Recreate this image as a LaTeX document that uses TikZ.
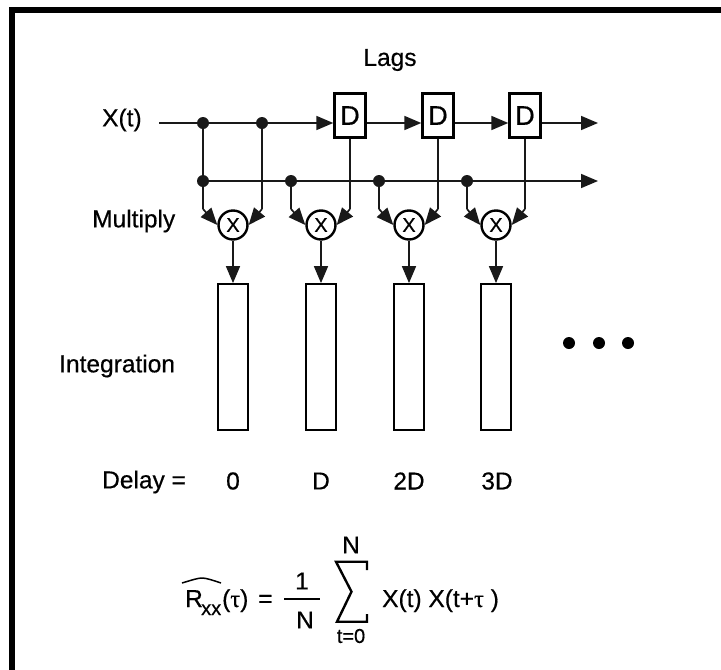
\documentclass[tikz,border=0pt]{standalone}
\usepackage{fontspec}
\setmainfont[FakeBold=0.5]{Liberation Sans}
\usetikzlibrary{arrows.meta}
\newfontfamily\taufont[FakeBold=0.5]{Liberation Serif}
\tikzset{
  x=1pt,y=-1pt,
  lbl/.style={inner sep=0pt,font=\fontsize{24.5}{28}\selectfont},
  flbl/.style={inner sep=0pt,font=\fontsize{24.5}{27}\selectfont,anchor=base west},
  sm/.style={inner sep=0pt,font=\fontsize{20}{22}\selectfont},
  wire/.style={line width=1.7pt,black!90},
  arr/.style={wire,-{Triangle[length=17pt,width=14pt]}},
  dlybox/.style={draw,line width=2.4pt,minimum width=31pt,minimum height=44pt,inner sep=0pt,fill=white,font=\fontsize{27}{28}\selectfont},
  mulnode/.style={draw,circle,line width=2.4pt,minimum size=29pt,inner sep=0pt,fill=white,font=\fontsize{20}{22}\selectfont},
  intbox/.style={draw,line width=1.8pt,minimum width=30pt,minimum height=146pt,inner sep=0pt},
  junc/.style={circle,fill=black!90,minimum size=12pt,inner sep=0pt},
  bigdot/.style={circle,fill=black,minimum size=12pt,inner sep=0pt},
}
\begin{document}
\begin{tikzpicture}
\useasboundingbox (0,0) rectangle (721,670);
% frame
\draw[line width=6pt,miter limit=10] (11.5,670) -- (11.5,9.5) -- (721,9.5);
% labels
\node[lbl] (lags) at (390,60) {Lags};
\node[lbl,anchor=west] (xt) at (102,120) {X(t)};
\node[lbl,anchor=west] (mult) at (92,221) {Multiply};
\node[lbl,anchor=west] (integ) at (59,366) {Integration};
\node[lbl,anchor=west] (delay) at (102,482) {Delay =};
\node[lbl] (d0) at (233,481) {0};
\node[lbl] (d1) at (321,481) {D};
\node[lbl] (d2) at (409,481) {2D};
\node[lbl] (d3) at (497,481) {3D};
% delay units
\node[dlybox] (D1) at (350,115.5) {D};
\node[dlybox] (D2) at (438,115.5) {D};
\node[dlybox] (D3) at (525,115.5) {D};
% junctions
\node[junc] (J1) at (203,123) {};
\node[junc] (J2) at (262,123) {};
\node[junc] (K0) at (203,181) {};
\node[junc] (K1) at (291,181) {};
\node[junc] (K2) at (379,181) {};
\node[junc] (K3) at (467,181) {};
% multipliers and integrators
\foreach \i/\x in {0/233,1/321,2/409,3/496}{
  \node[mulnode] (M\i) at (\x,225) {X};
  \node[intbox] (I\i) at (\x,357) {};
  \draw[arr] (M\i) -- (I\i);
  \coordinate (BL\i) at (K\i |- 0,209);
}
\coordinate (BR0) at (J2 |- 0,209);
\coordinate (BR1) at (D1 |- 0,209);
\coordinate (BR2) at (D2 |- 0,209);
\coordinate (BR3) at (D3 |- 0,209);
% free ends
\coordinate (start) at (159,123);
\coordinate (end1) at (598,123);
\coordinate (end2) at (598,181);
% signal lines
\draw[wire] (start) -- (J1);
\draw[wire] (J1) -- (J2);
\draw[arr] (J2) -- (J2 -| D1.west);
\draw[arr] (D1.east |- J2) -- (D2.west |- J2);
\draw[arr] (D2.east |- J2) -- (D3.west |- J2);
\draw[arr] (D3.east |- J2) -- (end1);
\draw[wire] (J1) -- (K0);
\draw[wire] (K0) -- (K1);
\draw[wire] (K1) -- (K2);
\draw[wire] (K2) -- (K3);
\draw[arr] (K3) -- (end2);
% inputs of the multipliers
\draw[wire] (K0) -- (BL0);
\draw[wire] (K1) -- (BL1);
\draw[wire] (K2) -- (BL2);
\draw[wire] (K3) -- (BL3);
\draw[wire] (J2) -- (BR0);
\draw[wire] (D1) -- (BR1);
\draw[wire] (D2) -- (BR2);
\draw[wire] (D3) -- (BR3);
\foreach \i in {0,1,2,3}{
  \draw[arr] (BL\i) -- (M\i.west);
  \draw[arr] (BR\i) -- (M\i.east);
}
% ellipsis
\node[bigdot] (e1) at (569,343) {};
\node[bigdot] (e2) at (599,343) {};
\node[bigdot] (e3) at (628,343) {};
% formula
\node[flbl] (fR) at (185,607) {R};
\node[sm,anchor=base west] (fxx) at (201,615) {xx};
\node[flbl] (ftau) at (222,607) {(\taufont τ\rmfamily)};
\node[flbl] (feq) at (258,607) {=};
\draw[line width=1.5pt] (182,583) .. controls (192,580) and (198,578) .. (202,578) .. controls (206,578) and (212,580) .. (221,583);
\node[lbl] (one) at (302,581) {1};
\node[lbl] (den) at (305,620) {N};
\draw[line width=1.7pt] (one |- 0,599) ++(-18,0) -- ++(36,0);
\draw[line width=2.4pt,line join=miter] (367,570) -- (367,561.7) -- (336,561.7) -- (351.5,591.7) -- (337,621.7) -- (367,621.7) -- (367,614);
\node[lbl] (sumN) at (351,545) {N};
\node[sm] (sumt) at (351,636) {t=0};
\node[flbl] (fX) at (382,607) {X(t) X(t+\taufont τ\rmfamily\ )};
\end{tikzpicture}
\end{document}
